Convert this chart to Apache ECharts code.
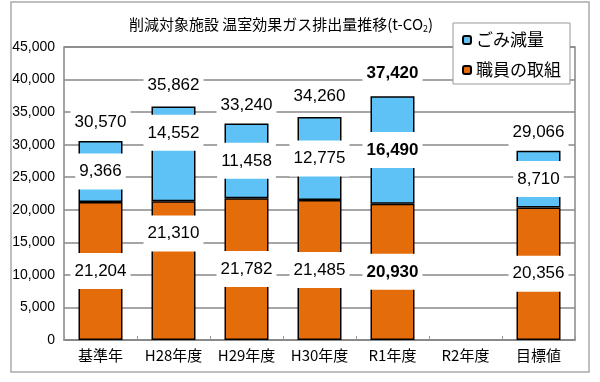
<!DOCTYPE html>
<html><head><meta charset="utf-8">
<script src="https://cdn.jsdelivr.net/npm/echarts@6/dist/echarts.min.js"></script>
<style>html,body{margin:0;padding:0;background:#fff}#c{width:600px;height:382px}</style>
</head><body><div id="c"></div>
<script>
const categories = ['基準年','H28年度','H29年度','H30年度','R1年度','R2年度','目標値'];
const staffValues = [21204, 21310, 21782, 21485, 20930, null, 20356];
const wasteValues = [9366, 14552, 11458, 12775, 16490, null, 8710];
const totalValues = [30570, 35862, 33240, 34260, 37420, null, 29066];
const yTicks = [0,5000,10000,15000,20000,25000,30000,35000,40000,45000];
const boldIndex = 4;

const FONT = '"Noto Sans CJK JP", "Liberation Sans", sans-serif';
const NUMFONT = '"Liberation Sans", "Noto Sans", sans-serif';
const fmt = v => v == null ? '' : v.toLocaleString('en-US');

// manual label offsets for overlapping labels (layout, not data)
const wasteOffsets = {1: [0, -21]};
const staffOffsets = {1: [0, -37]};
const totalOffsets = {1: [0, -3], 3: [0, -2], 4: [0, -5]};

const segLabel = {
  show: true, position: 'inside', color: '#000', fontSize: 17, fontFamily: NUMFONT,
  backgroundColor: '#fff', padding: [10, 4], lineHeight: 16,
  formatter: p => fmt(p.value)
};

function items(arr, offsets) {
  return arr.map((v, i) => {
    const o = {value: v, label: {}};
    if (i === boldIndex) o.label.fontWeight = 'bold';
    if (offsets && offsets[i]) o.label.offset = offsets[i];
    return o;
  });
}

const chart = echarts.init(document.getElementById('c'), null, {renderer: 'canvas'});
chart.setOption({
  animation: false,
  backgroundColor: '#fff',
  title: {
    text: '削減対象施設 温室効果ガス排出量推移(t-CO{sub|2})',
    left: 276, top: 11, textAlign: 'center',
    textStyle: {fontSize: 15, fontWeight: 'normal', color: '#000', fontFamily: FONT,
      rich: {sub: {fontSize: 9, verticalAlign: 'bottom', padding: [8,0,0,0], fontFamily: FONT, color: '#000'}}}
  },
  legend: {
    orient: 'vertical', left: 453, top: 23,
    backgroundColor: '#fff', borderColor: '#999', borderWidth: 1,
    padding: [7, 9, 4, 9], itemGap: 10, itemWidth: 8, itemHeight: 8,
    textStyle: {fontSize: 17, color: '#000', fontFamily: FONT, lineHeight: 20},
    data: ['ごみ減量', '職員の取組'],
    z: 10
  },
  graphic: [{
    type: 'rect', shape: {x: 11, y: 2, width: 578, height: 370},
    style: {fill: 'none', stroke: '#aaa', lineWidth: 1.5}, silent: true, z: -1
  }],
  grid: {left: 64, top: 47, right: 25, bottom: 42, show: true, borderColor: '#888', borderWidth: 1.5, backgroundColor: 'transparent'},
  xAxis: {
    type: 'category', data: categories,
    axisLine: {show: true, lineStyle: {color: '#888', width: 1.5}},
    axisTick: {show: true, inside: true, length: 4, lineStyle: {color: '#999'}},
    axisLabel: {fontSize: 15, color: '#000', fontFamily: FONT, margin: 8, interval: 0}
  },
  yAxis: {
    type: 'value', min: yTicks[0], max: yTicks[yTicks.length-1], interval: yTicks[1]-yTicks[0],
    axisLine: {show: false}, axisTick: {show: false},
    axisLabel: {fontSize: 14, color: '#000', fontFamily: NUMFONT, margin: 9, formatter: v => fmt(v)},
    splitLine: {lineStyle: {color: '#888', width: 1.5}}
  },
  series: [
    {
      name: '職員の取組', type: 'bar', stack: 't', barWidth: 44,
      itemStyle: {color: '#E46C0A', borderColor: '#000', borderWidth: 1.5},
      label: segLabel,
      data: items(staffValues, staffOffsets)
    },
    {
      name: 'ごみ減量', type: 'bar', stack: 't', barWidth: 44,
      itemStyle: {color: '#5EC2F6', borderColor: '#000', borderWidth: 1.5},
      label: segLabel,
      data: items(wasteValues, wasteOffsets)
    },
    {
      name: '合計', type: 'line', data: items(totalValues, totalOffsets),
      symbol: 'circle', symbolSize: 1, showSymbol: true,
      itemStyle: {color: 'rgba(0,0,0,0)'},
      lineStyle: {width: 0, opacity: 0}, silent: true,
      label: {show: true, position: 'top', distance: 4, color: '#000', fontSize: 17, fontFamily: NUMFONT,
        backgroundColor: '#fff', padding: [6, 4], lineHeight: 16, formatter: p => fmt(p.value)},
      z: 5
    }
  ]
});
</script></body></html>
